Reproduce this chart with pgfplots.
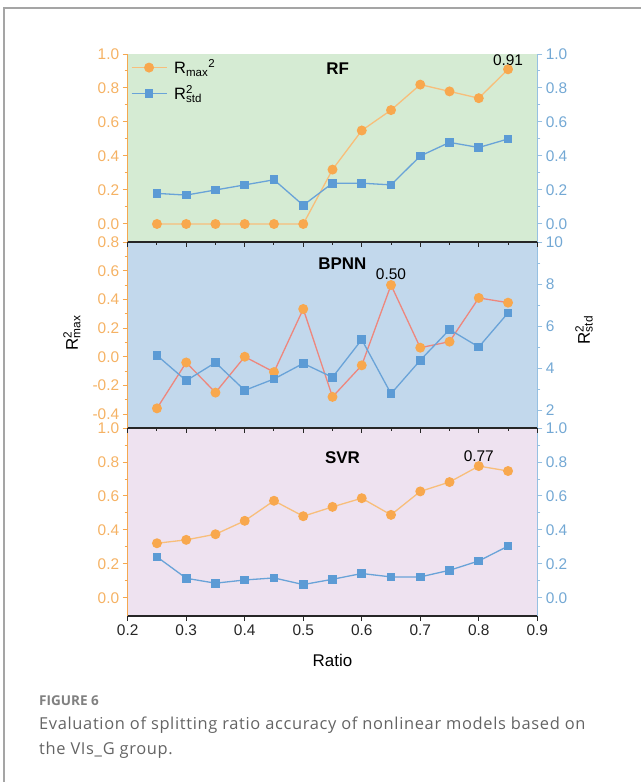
\documentclass[border=0pt]{standalone}
\usepackage{pgfplots}
\pgfplotsset{compat=1.18}
\usepackage{fontspec}
\setmainfont{Liberation Sans}
\newfontfamily\capfont[LetterSpace=4]{Open Sans}
\newfontfamily\capfontb{Open Sans}
\definecolor{axorange}{RGB}{245,168,80}
\definecolor{lblorange}{RGB}{245,178,100}
\definecolor{axblue}{RGB}{150,192,226}
\definecolor{lblblue}{RGB}{115,168,212}
\definecolor{mkorange}{RGB}{248,168,78}
\definecolor{lnorange}{RGB}{248,190,122}
\definecolor{lnsalmon}{RGB}{238,135,125}
\definecolor{mkblue}{RGB}{92,155,213}
\definecolor{lnblue}{RGB}{105,163,216}
\definecolor{bgRF}{RGB}{213,235,211}
\definecolor{bgBP}{RGB}{194,216,236}
\definecolor{bgSV}{RGB}{238,226,240}
\definecolor{framegray}{RGB}{165,165,165}
\definecolor{capgrayA}{RGB}{128,128,128}
\definecolor{capgrayB}{RGB}{100,100,100}
\tikzset{
  ann/.style={anchor=base, font=\fontsize{15.5}{17}\selectfont},
  ttl/.style={font=\bfseries\fontsize{17}{19}\selectfont},
}
\pgfplotsset{
  base/.style={scale only axis, width=409.6bp, xmin=0.2, xmax=0.9, clip=false,
    major tick length=5bp, minor tick length=3bp,
    tick label style={font=\fontsize{15.5}{17}\selectfont},
    /pgf/number format/assume math mode=true},
  leftax/.style={base, hide x axis, axis y line*=left, tick align=outside,
    y axis line style={draw=axorange, line width=1.3bp, -},
    y tick style={draw=axorange, line width=1bp},
    yticklabel style={text=lblorange},
    minor y tick num=1, axis background/.style={fill=#1}},
  rightax/.style={base, hide x axis, axis y line*=right, tick align=outside,
    y axis line style={draw=axblue, line width=1.3bp, -},
    y tick style={draw=axblue, line width=1bp},
    yticklabel style={text=lblblue},
    minor y tick num=1},
  dec/.style={yticklabel style={/pgf/number format/.cd, fixed, fixed zerofill, precision=1, /tikz/.cd}},
  topax/.style={base, hide y axis, axis x line*=top, tick align=inside, ymin=0, ymax=1,
    x axis line style={draw=black!85, line width=1.3bp, -},
    x tick style={draw=black!85, line width=1bp},
    xtick={0.2,0.3,...,0.9}, minor x tick num=1, xticklabels={}},
  oS/.style={color=lnorange, line width=1.3bp, mark=*, mark size=4.3bp, mark options={fill=mkorange, draw=mkorange}},
  bS/.style={color=lnblue, line width=1.3bp, mark=square*, mark size=3.7bp, mark options={fill=mkblue, draw=mkblue}},
}
\begin{document}
\begin{tikzpicture}
\path[use as bounding box] (0,0) rectangle (641bp,-782bp);
\draw[color=framegray, line width=1.5bp] (4bp,-782bp) -- (4bp,-8bp) -- (641bp,-8bp);

% ---------------- RF ----------------
\begin{axis}[leftax=bgRF, dec, at={(127.7bp,-54bp)}, anchor=north west, height=188bp,
  ymin=-0.106, ymax=1.0, ytick={0,0.2,0.4,0.6,0.8,1.0},
  legend style={at={(0,1)}, anchor=north west, draw=none, fill=none,
    font=\fontsize{16.5}{18}\selectfont, row sep=6bp, inner xsep=3bp, inner ysep=3.5bp,
    /tikz/every odd column/.style={column sep=5bp}},
  legend cell align=left,
  legend image code/.code={\draw[mark repeat=2, mark phase=2] plot coordinates {(0bp,0bp) (17.5bp,0bp) (35bp,0bp)};}]
\addplot[oS] coordinates {(0.25,0) (0.30,0) (0.35,0) (0.40,0) (0.45,0) (0.50,0) (0.55,0.32) (0.60,0.55) (0.65,0.67) (0.70,0.82) (0.75,0.78) (0.80,0.74) (0.85,0.91)};
\addlegendentry{R\textsubscript{max}\textsuperscript{2}}
\addlegendimage{bS}
\addlegendentry{R\rlap{\textsuperscript{2}}\textsubscript{std}}
\node[ann] at (axis cs:0.85,0.91) [yshift=4bp] {0.91};
\node[ttl] at (axis cs:0.559,0.912) {RF};
\end{axis}
\begin{axis}[rightax, dec, at={(127.7bp,-54bp)}, anchor=north west, height=188bp,
  ymin=-0.106, ymax=1.0, ytick={0,0.2,0.4,0.6,0.8,1.0}]
\addplot[bS] coordinates {(0.25,0.18) (0.30,0.17) (0.35,0.20) (0.40,0.23) (0.45,0.26) (0.50,0.11) (0.55,0.24) (0.60,0.24) (0.65,0.23) (0.70,0.40) (0.75,0.48) (0.80,0.45) (0.85,0.50)};
\end{axis}

% ---------------- BPNN ----------------
\begin{axis}[leftax=bgBP, dec, at={(127.7bp,-242bp)}, anchor=north west, height=186bp,
  ymin=-0.497, ymax=0.8, ytick={-0.4,-0.2,0,0.2,0.4,0.6,0.8}]
\addplot[oS, color=lnsalmon] coordinates {(0.25,-0.36) (0.30,-0.04) (0.35,-0.25) (0.40,0.0) (0.45,-0.107) (0.50,0.333) (0.55,-0.28) (0.60,-0.06) (0.65,0.50) (0.70,0.063) (0.75,0.105) (0.80,0.41) (0.85,0.377)};
\node[ann] at (axis cs:0.65,0.50) [yshift=6bp] {0.50};
\node[ttl] at (axis cs:0.567,0.646) {BPNN};
\end{axis}
\begin{axis}[rightax, at={(127.7bp,-242bp)}, anchor=north west, height=186bp,
  ymin=1.16, ymax=10, ytick={2,4,6,8,10}]
\addplot[bS] coordinates {(0.25,4.61) (0.30,3.41) (0.35,4.27) (0.40,2.95) (0.45,3.49) (0.50,4.23) (0.55,3.57) (0.60,5.36) (0.65,2.79) (0.70,4.38) (0.75,5.84) (0.80,5.01) (0.85,6.63)};
\end{axis}
\begin{axis}[topax, at={(127.7bp,-242bp)}, anchor=north west, height=186bp]
\end{axis}

% ---------------- SVR ----------------
\begin{axis}[leftax=bgSV, dec, at={(127.7bp,-428bp)}, anchor=north west, height=188bp,
  ymin=-0.106, ymax=1.0, ytick={0,0.2,0.4,0.6,0.8,1.0}]
\addplot[oS] coordinates {(0.25,0.322) (0.30,0.342) (0.35,0.375) (0.40,0.454) (0.45,0.572) (0.50,0.481) (0.55,0.536) (0.60,0.587) (0.65,0.489) (0.70,0.627) (0.75,0.682) (0.80,0.776) (0.85,0.747)};
\node[ann] at (axis cs:0.80,0.776) [yshift=4.3bp] {0.77};
\node[ttl] at (axis cs:0.567,0.824) {SVR};
\end{axis}
\begin{axis}[rightax, dec, at={(127.7bp,-428bp)}, anchor=north west, height=188bp,
  ymin=-0.106, ymax=1.0, ytick={0,0.2,0.4,0.6,0.8,1.0}]
\addplot[bS] coordinates {(0.25,0.242) (0.30,0.116) (0.35,0.087) (0.40,0.106) (0.45,0.118) (0.50,0.079) (0.55,0.110) (0.60,0.144) (0.65,0.124) (0.70,0.124) (0.75,0.163) (0.80,0.218) (0.85,0.305)};
\end{axis}
\begin{axis}[topax, at={(127.7bp,-428bp)}, anchor=north west, height=188bp]
\end{axis}
\begin{axis}[base, hide y axis, axis x line*=bottom, tick align=outside, ymin=0, ymax=1,
  at={(127.7bp,-428bp)}, anchor=north west, height=188bp,
  x axis line style={draw=black!85, line width=1.3bp, -},
  x tick style={draw=black!85, line width=1bp},
  xtick={0.2,0.3,0.4,0.5,0.6,0.7,0.8,0.9},
  xticklabel style={text=black!85, /pgf/number format/.cd, fixed, fixed zerofill, precision=1, /tikz/.cd}]
\end{axis}

% axis titles
\node[font=\fontsize{17}{19}\selectfont] at (332.5bp,-660.7bp) {Ratio};
\node[rotate=90, font=\fontsize{17}{19}\selectfont] at (72bp,-333bp) {R\rlap{\textsuperscript{2}}\textsubscript{max}};
\node[rotate=90, font=\fontsize{17}{19}\selectfont] at (584bp,-330bp) {R\rlap{\textsuperscript{2}}\textsubscript{std}};

% caption
\node[anchor=base west, inner sep=0pt, text=capgrayA, font=\capfontb\bfseries\fontsize{13.6}{15}\selectfont] at (39bp,-705bp) {FIGURE 6};
\node[anchor=base west, inner sep=0pt, text=capgrayB, font=\capfont\fontsize{16.5}{19}\selectfont] at (39bp,-729bp) {Evaluation of splitting ratio accuracy of nonlinear models based on};
\node[anchor=base west, inner sep=0pt, text=capgrayB, font=\capfont\fontsize{16.5}{19}\selectfont] at (39bp,-754bp) {the VIs\_G group.};
\end{tikzpicture}
\end{document}
